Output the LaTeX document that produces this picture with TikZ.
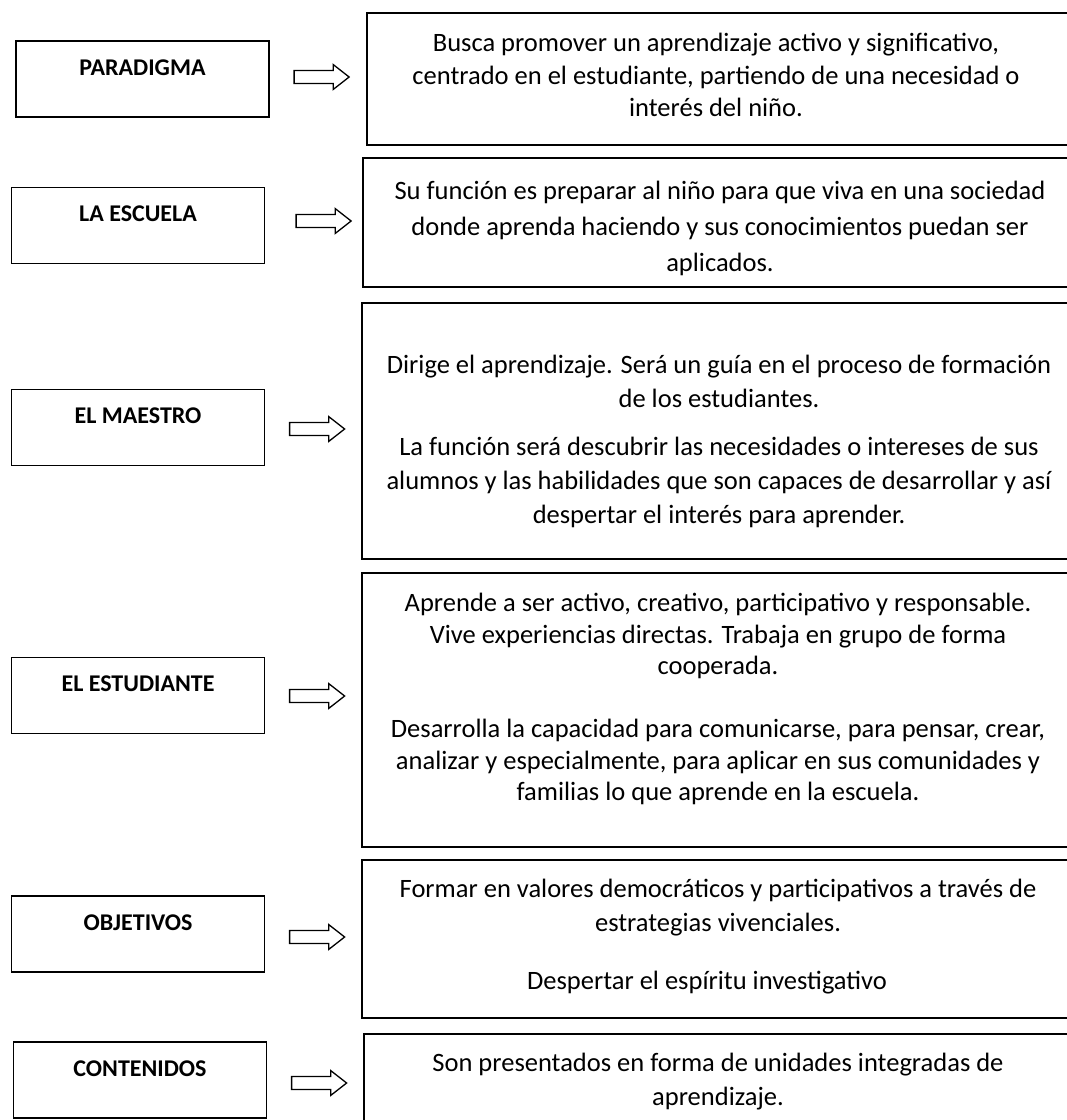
\documentclass[tikz,border=0pt]{standalone}
\usepackage{fontspec}
\setmainfont{Carlito}
\usetikzlibrary{shapes.arrows,fit}
\tikzset{
  lbox/.style={draw, line width=1.8pt, minimum width=253pt, minimum height=76pt, inner sep=0pt,
    text height=34pt, text depth=42pt, font=\bfseries\fontsize{24}{28}\selectfont},
  rbox/.style={draw, line width=1.8pt, inner sep=0pt},
  rtext/.style={align=center, inner sep=0pt},
  barrow/.style={single arrow, draw, line width=1.3pt, inner xsep=0pt, inner ysep=5.8pt,
    minimum height=55pt, single arrow head extend=6pt, single arrow tip angle=76}
}
\begin{document}
\begin{tikzpicture}[x=1pt,y=-1pt]
\useasboundingbox (0,0) rectangle (1067,1120);
% left boxes
\node[lbox] (l1) at (142.5,79) {PARADIGMA};
\node[lbox] (l2) at (138,225.5) {LA ESCUELA};
\node[lbox] (l3) at (138,427.5) {EL MAESTRO};
\node[lbox] (l4) at (138,695.5) {EL ESTUDIANTE};
\node[lbox] (l5) at (138,934) {OBJETIVOS};
\node[lbox] (l6) at (140,1080) {CONTENIDOS};
% arrows
\node[barrow] (a1) at (317.5,77) {};
\node[barrow] (a2) at (319.5,221) {};
\node[barrow] (a3) at (313,429) {};
\node[barrow] (a4) at (313,696) {};
\node[barrow] (a5) at (313,937) {};
\node[barrow] (a6) at (315,1083) {};
% right boxes
\node[rbox, fit={(367,13) (1080,145)}] (r1) {};
\node[rbox, fit={(363,158) (1080,287)}] (r2) {};
\node[rbox, fit={(362,303) (1080,559)}] (r3) {};
\node[rbox, fit={(362,573) (1080,847)}] (r4) {};
\node[rbox, fit={(362,860) (1080,1018)}] (r5) {};
\node[rbox, fit={(364,1034) (1080,1135)}] (r6) {};
% texts
\node[rtext, font=\fontsize{26.5}{32.5}\selectfont] (t1) at (716,75) {Busca promover un aprendizaje activo y significativo,\\centrado en el estudiante, partiendo de una necesidad o\\interés del niño.};
\node[rtext, font=\fontsize{26.5}{36}\selectfont] (t2) at (720,228) {Su función es preparar al niño para que viva en una sociedad\\donde aprenda haciendo y sus conocimientos puedan ser\\aplicados.};
\node[rtext, font=\fontsize{26.5}{34}\selectfont] (t3) at (719,441) {Dirige el aprendizaje. Será un guía en el proceso de formación\\de los estudiantes.\\[14pt]La función será descubrir las necesidades o intereses de sus\\alumnos y las habilidades que son capaces de desarrollar y así\\despertar el interés para aprender.};
\node[rtext, font=\fontsize{26.5}{31.5}\selectfont] (t4) at (718,699) {Aprende a ser activo, creativo, participativo y responsable.\\Vive experiencias directas. Trabaja en grupo de forma\\cooperada.\\[31.5pt]Desarrolla la capacidad para comunicarse, para pensar, crear,\\analizar y especialmente, para aplicar en sus comunidades y\\familias lo que aprende en la escuela.};
\node[rtext, font=\fontsize{26.5}{34}\selectfont] (t5) at (718,937) {Formar en valores democráticos y participativos a través de\\estrategias vivenciales.\\[24pt]Despertar el espíritu investigativo\hspace*{22pt}};
\node[rtext, font=\fontsize{26.5}{34}\selectfont] (t6) at (718,1081.5) {Son presentados en forma de unidades integradas de\\aprendizaje.};
\end{tikzpicture}
\end{document}
